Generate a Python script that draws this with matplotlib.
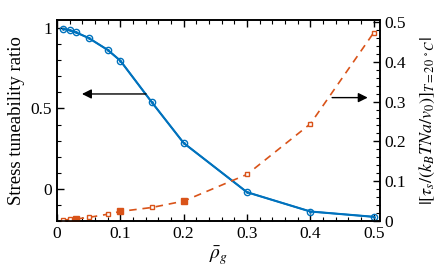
import matplotlib
matplotlib.use('Agg')
import matplotlib.pyplot as plt
from matplotlib.ticker import MultipleLocator, FuncFormatter

plt.rcParams['font.family'] = ['Liberation Serif', 'DejaVu Serif']
plt.rcParams['mathtext.fontset'] = 'stix'

rho = [0.01, 0.02, 0.03, 0.05, 0.08, 0.1, 0.15, 0.2, 0.3, 0.4, 0.5]
ratio = [0.995, 0.986, 0.973, 0.938, 0.864, 0.797, 0.537, 0.285, -0.021, -0.141, -0.174]
stress = [0.002, 0.004, 0.005, 0.009, 0.017, 0.024, 0.034, 0.05, 0.117, 0.244, 0.473]
filled = [False, False, True, False, False, True, False, True, False, False, False]

blue = '#0072BD'
orange = '#D95319'

fig = plt.figure(figsize=(4.36, 2.72), dpi=100)
ax = fig.add_axes([57 / 436, 1 - 221 / 272, 323 / 436, 201 / 272])
ax2 = ax.twinx()

# left axis: tuneability ratio
ax.plot(rho, ratio, '-', color=blue, lw=1.2, marker='o', ms=4.5, mfc='none', mew=1.0, zorder=3)
ax.plot(rho, ratio, 'None', color=blue, marker='.', ms=2, zorder=3)

# right axis: stress
ax2.plot(rho, stress, '--', color=orange, lw=1.2, dashes=(4.5, 3.5))
r_open = [r for r, f in zip(rho, filled) if not f]
s_open = [s for s, f in zip(stress, filled) if not f]
r_fill = [r for r, f in zip(rho, filled) if f]
s_fill = [s for s, f in zip(stress, filled) if f]
ax2.plot(r_open, s_open, 's', color=orange, ms=3.5, mfc='white', mew=1.0)
ax2.plot(r_fill, s_fill, 's', color=orange, ms=4)

ax.set_xlim(0, 0.51)
ax.set_ylim(-0.2, 1.05)
ax2.set_ylim(0, 0.505)

fmt = FuncFormatter(lambda v, p: '0' if abs(v) < 1e-9 else f'{v:g}')
ax.xaxis.set_major_locator(MultipleLocator(0.1))
ax.xaxis.set_minor_locator(MultipleLocator(0.02))
ax.yaxis.set_major_locator(MultipleLocator(0.5))
ax.yaxis.set_minor_locator(MultipleLocator(0.1))
ax2.yaxis.set_major_locator(MultipleLocator(0.1))
ax2.yaxis.set_minor_locator(MultipleLocator(0.02))
ax.xaxis.set_major_formatter(fmt)
ax.yaxis.set_major_formatter(fmt)
ax2.yaxis.set_major_formatter(fmt)

ax.tick_params(which='both', direction='in', top=True, right=False, labelsize=12.5)
ax.tick_params(which='major', length=5, width=1)
ax.tick_params(which='minor', length=3, width=0.8)
ax2.tick_params(which='both', direction='in', labelsize=12.5)
ax2.tick_params(which='major', length=5, width=1)
ax2.tick_params(which='minor', length=3, width=0.8)
for sp in list(ax.spines.values()) + list(ax2.spines.values()):
    sp.set_linewidth(1.2)

ax.set_xlabel(r'$\bar{\rho}_g$', fontsize=14, labelpad=2)
ax.set_ylabel('Stress tuneability ratio', fontsize=13.5, labelpad=4)
ax2.set_ylabel(r'$|[\tau_s/(k_BTNa/v_0)]_{T=20\ ^\circ C}|$', fontsize=13, labelpad=8)

ax.annotate('', xy=(0.035, 0.59), xytext=(0.145, 0.59),
            arrowprops=dict(arrowstyle='-|>', color='black', lw=1.0, mutation_scale=14))
ax2.annotate('', xy=(0.495, 0.31), xytext=(0.43, 0.31),
             arrowprops=dict(arrowstyle='-|>', color='black', lw=1.0, mutation_scale=14))

fig.savefig('out.png', dpi=100)
